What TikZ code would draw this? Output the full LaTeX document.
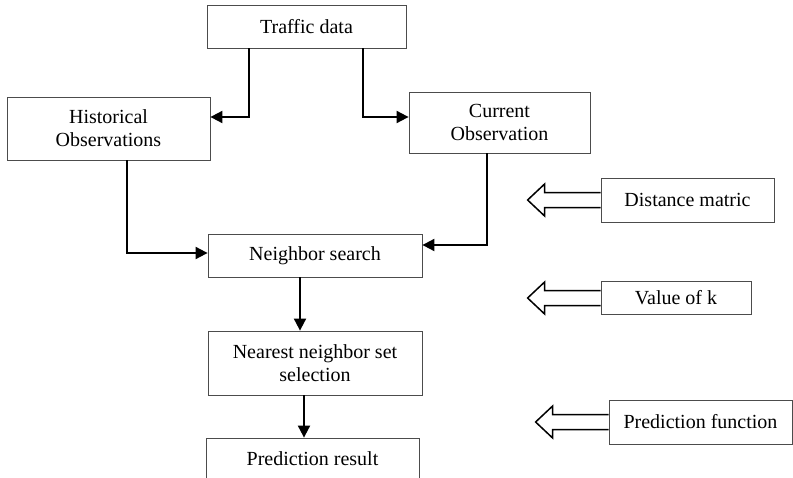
\documentclass[tikz,border=0pt]{standalone}
\usepackage{fontspec}
\setmainfont{Liberation Serif}
\usetikzlibrary{arrows.meta,positioning}

% open arrow pointing left out of a side box
\newcommand{\inarrow}[1]{%
  \draw[hollow] (#1.west) ++(0,-7.5) -- ++(-56,0) -- ++(0,-8.5) -- ++(-17,16)
    -- ++(17,16) -- ++(0,-8.5) -- ++(56,0);}

\begin{document}
\begin{tikzpicture}[x=1pt,y=-1pt]
  \tikzstyle{every node}+=[inner sep=0pt, font=\fontsize{20}{23}\selectfont]
  \tikzstyle{block}=[draw=black!70, line width=0.8pt, align=center]
  \tikzstyle{link}=[line width=1.9pt, -{Triangle[length=12pt,width=12pt]}]
  \tikzstyle{hollow}=[draw=black, line width=1.5pt, line join=miter]
  \clip (0,0) rectangle (793,477);
  \fill[white] (0,0) rectangle (793,477);

  % main flow
  \node[block, minimum width=199pt, minimum height=43pt] (traffic) at (306.5,26.5) {Traffic data};
  \node[block, minimum width=203pt, minimum height=63pt] (hist) at (108.5,128.5) {Historical\\Observations};
  \node[block, minimum width=181pt, minimum height=61pt] (curr) at (499.5,122.5) {Current\\Observation};
  \node[block, minimum width=214pt, minimum height=43pt] (search) at (315,255.5) {Neighbor search};
  \node[block, minimum width=214pt, minimum height=64pt] (nearest) at (315,363) {Nearest neighbor set\\selection};
  \node[block, minimum width=213pt, minimum height=42pt] (result) at (312.5,459) {Prediction result};

  % side inputs
  \node[block, minimum width=173pt, minimum height=44pt] (dist) at (687.5,200) {Distance matric};
  \node[block, minimum width=150pt, minimum height=33pt] (valk) at (676,298) {Value of k};
  \node[block, minimum width=183pt, minimum height=44pt] (predf) at (700.5,422) {Prediction function};

  \draw[link] (traffic.south -| 249,0) |- (hist.east |- 0,117);
  \draw[link] (traffic.south -| 363,0) |- (curr.west |- 0,117);
  \draw[link] (hist.south -| 127,0) |- (search.west |- 0,253);
  \draw[link] (curr.south -| 487,0) |- (search.east |- 0,245);
  \draw[link] (search.south -| 300,0) -- (nearest.north -| 300,0);
  \draw[link] (nearest.south -| 304,0) -- (result.north -| 304,0);

  \inarrow{dist}
  \inarrow{valk}
  \inarrow{predf}
\end{tikzpicture}
\end{document}
